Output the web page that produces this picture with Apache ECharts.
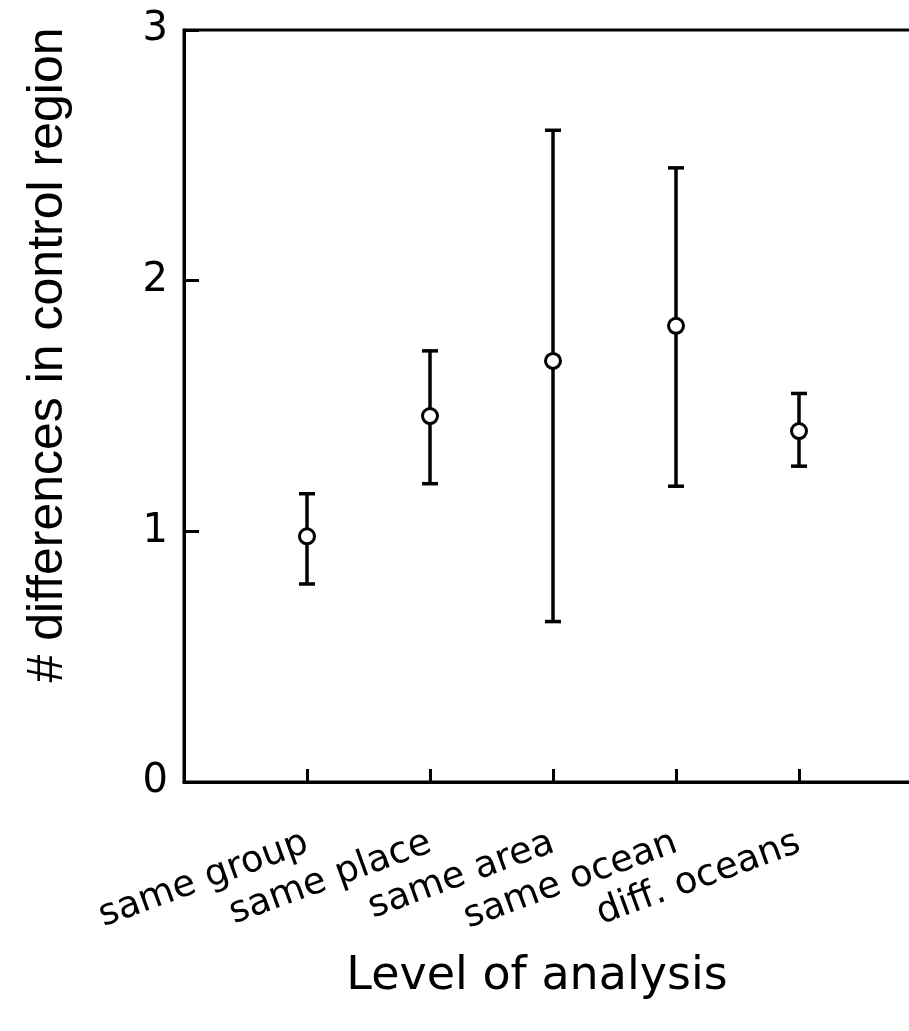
<!DOCTYPE html>
<html>
<head>
<meta charset="utf-8">
<script src="https://cdn.jsdelivr.net/npm/echarts@6/dist/echarts.min.js"></script>
<style>
  html,body{margin:0;padding:0;background:#fff;}
  #chart{width:909px;height:1031px;}
</style>
</head>
<body>
<div id="chart"></div>
<script>
// level of analysis
var levels = ["same group", "same place", "same area", "same ocean", "diff. oceans"];
// mean # differences and error bar ends
var meanVals = [0.98, 1.46, 1.68, 1.82, 1.40];
var upperVals = [1.15, 1.72, 2.60, 2.45, 1.55];
var lowerVals = [0.79, 1.19, 0.64, 1.18, 1.26];
var yTicks = [0, 1, 2, 3];

var chart = echarts.init(document.getElementById('chart'));

var pts = [], bars = [];
for (var i = 0; i < levels.length; i++) {
  pts.push([i + 1, meanVals[i]]);
  bars.push([i + 1, lowerVals[i], upperVals[i]]);
}

function errorBar(params, api) {
  var x = api.value(0);
  var lo = api.coord([x, api.value(1)]);
  var hi = api.coord([x, api.value(2)]);
  var cap = 8;
  var st = {stroke: '#000', lineWidth: 3.5};
  return {
    type: 'group',
    children: [
      {type: 'line', shape: {x1: lo[0], y1: lo[1], x2: hi[0], y2: hi[1]}, style: st},
      {type: 'line', shape: {x1: lo[0] - cap, y1: lo[1], x2: lo[0] + cap, y2: lo[1]}, style: st},
      {type: 'line', shape: {x1: hi[0] - cap, y1: hi[1], x2: hi[0] + cap, y2: hi[1]}, style: st}
    ]
  };
}

var option = {
  animation: false,
  backgroundColor: '#fff',
  grid: {
    left: 184, top: 30, bottom: 249, right: -13,
    outerBoundsMode: 'none',
    containLabel: false,
    show: true, borderColor: '#000', borderWidth: 3
  },
  graphic: [{
    type: 'text',
    x: 48, y: 355,
    rotation: Math.PI / 2,
    style: {
      text: '# differences in control region',
      font: '50px "Liberation Sans", Arial, sans-serif',
      fill: '#000',
      align: 'center',
      verticalAlign: 'middle'
    }
  }],
  xAxis: {
    type: 'value',
    min: 0, max: 6, interval: 1,
    name: 'Level of analysis',
    nameLocation: 'middle',
    nameGap: 172,
    nameTextStyle: {fontSize: 46, fontFamily: 'DejaVu Sans', color: '#000', padding: [0, 32, 0, 0]},
    axisLine: {lineStyle: {color: '#000', width: 3}},
    axisTick: {inside: true, length: 13, lineStyle: {color: '#000', width: 3}},
    splitLine: {show: false},
    axisLabel: {
      rotate: 20,
      margin: 60,
      fontSize: 37,
      fontFamily: 'DejaVu Sans',
      color: '#000',
      formatter: function (v) { return levels[v - 1] || ''; }
    }
  },
  yAxis: {
    type: 'value',
    min: 0, max: 3, interval: 1,
    axisLine: {show: true, lineStyle: {color: '#000', width: 3}},
    axisTick: {show: true, inside: true, length: 15, lineStyle: {color: '#000', width: 3}},
    splitLine: {show: false},
    axisLabel: {
      margin: 16,
      fontSize: 40,
      fontFamily: 'DejaVu Sans',
      color: '#000',
      formatter: function (v) { return yTicks.indexOf(v) >= 0 ? String(v) : ''; }
    }
  },
  series: [
    {
      type: 'custom',
      renderItem: errorBar,
      data: bars,
      z: 2
    },
    {
      type: 'scatter',
      data: pts,
      symbol: 'circle',
      symbolSize: 15,
      itemStyle: {color: '#fff', borderColor: '#000', borderWidth: 3, opacity: 1},
      z: 3
    }
  ]
};
chart.setOption(option);
</script>
</body>
</html>
